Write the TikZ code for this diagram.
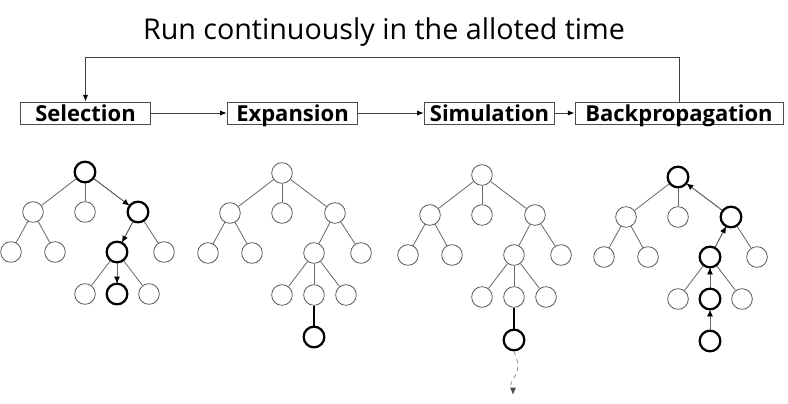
\documentclass[tikz,border=0pt]{standalone}
\usepackage{fontspec}
\setmainfont{Open Sans}
\usepackage{tikz}
\usetikzlibrary{positioning}
\usetikzlibrary{calc}
\usetikzlibrary{arrows.meta}

\tikzset{
  stage/.style={draw=black!70, line width=0.75pt, minimum height=16.5pt, inner sep=0pt, text height=13.5pt, text depth=1.5pt, font=\fontsize{16.5}{18}\selectfont\bfseries},
  link/.style={draw=black!75, line width=0.75pt, -{Latex[length=5pt,width=4pt,black]}},
  leaf/.style={circle, draw=black!65, line width=0.6pt, minimum size=15.5pt, inner sep=0pt, fill=white},
  hot/.style={draw=black, line width=1.7pt},
  edge/.style={draw=black!60, line width=0.6pt},
  upedge/.style={edge, -{Latex[length=5pt,width=4.5pt,black]}},
}

% one search tree, nodes named #1r, #1a, ... 
\newcommand{\basetree}[3]{
  \begin{scope}[shift={(#2,#3)}]
    \node[leaf] (#1r) at (0,0) {};
    \node[leaf] (#1a) at (-52,40) {};
    \node[leaf] (#1b) at (0,40) {};
    \node[leaf] (#1c) at (53,40) {};
    \node[leaf] (#1aa) at (-74,80) {};
    \node[leaf] (#1ab) at (-30,80) {};
    \node[leaf] (#1ca) at (32,80) {};
    \node[leaf] (#1cb) at (79,80) {};
    \node[leaf] (#1caa) at (0,122) {};
    \node[leaf] (#1cab) at (32,122) {};
    \node[leaf] (#1cac) at (64,122) {};
  \end{scope}
  \foreach \p/\c in {r/a,r/b,r/c,a/aa,a/ab,c/ca,c/cb,ca/caa,ca/cab,ca/cac}
    \draw[edge] (#1\p) -- (#1\c);
}

\begin{document}
\begin{tikzpicture}[x=0.75pt,y=-0.75pt]
  \useasboundingbox (0,0) rectangle (788,403);

  \node[anchor=base, font=\fontsize{21.5}{26}\selectfont] (title) at (384,40) {Run continuously in the alloted time};

  \node[stage, minimum width=98pt] (sel) at (85.5,113) {Selection};
  \node[stage, minimum width=98pt] (exp) at (292.5,113) {Expansion};
  \node[stage, minimum width=98pt] (sim) at (489.5,113) {Simulation};
  \node[stage, minimum width=156pt] (bp) at (679,113) {Backpropagation};
  \draw[link] (sel) -- (exp);
  \draw[link] (exp) -- (sim);
  \draw[link] (sim) -- (bp);
  \draw[link] (bp.north) -- ++(0,-44) -| (sel.north);

  % selection
  \basetree{s}{85}{172}
  \draw[upedge] (sr) -- (sc);
  \draw[upedge] (sc) -- (sca);
  \draw[upedge] (sca) -- (scab);
  \node[leaf,hot] (srh) at (sr) {};
  \node[leaf,hot] (sch) at (sc) {};
  \node[leaf,hot] (scah) at (sca) {};
  \node[leaf,hot] (scabh) at (scab) {};

  % expansion
  \basetree{e}{282}{173}
  \node[leaf,hot] (enew) at ($(ecab)+(0,42)$) {};
  \draw[edge, draw=black, line width=1.7pt] (ecab) -- (enew);

  % simulation
  \basetree{m}{482}{175}
  \node[leaf,hot] (mnew) at ($(mcab)+(0,43)$) {};
  \draw[edge, draw=black, line width=1.7pt] (mcab) -- (mnew);
  \coordinate (mend) at ($(mnew)+(-1,55)$);
  \draw[black!40, dashed, line width=0.7pt, -{Latex[length=5.5pt,width=4.5pt,black!70]}]
    (mnew.south) to[out=-70,in=90] ++(4,15) to[out=-90,in=70] ++(-7,17) to[out=-110,in=90] (mend);

  % backpropagation
  \basetree{b}{678}{177}
  \node[leaf,hot] (bnew) at ($(bcab)+(0,42)$) {};
  \draw[upedge] (bnew) -- (bcab);
  \draw[upedge] (bcab) -- (bca);
  \draw[upedge] (bca) -- (bc);
  \draw[upedge] (bc) -- (br);
  \node[leaf,hot] (brh) at (br) {};
  \node[leaf,hot] (bch) at (bc) {};
  \node[leaf,hot] (bcah) at (bca) {};
  \node[leaf,hot] (bcabh) at (bcab) {};
\end{tikzpicture}
\end{document}
